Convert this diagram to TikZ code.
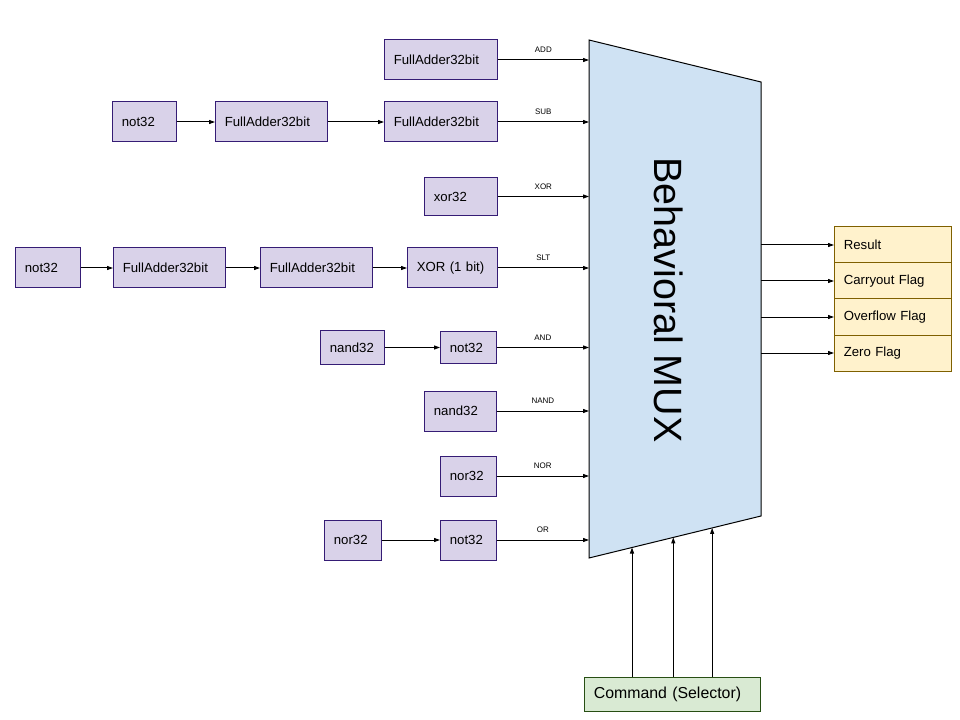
\documentclass[tikz,border=0pt]{standalone}
\usepackage{fontspec}
\setmainfont{Liberation Sans}
\usepackage{tikz}
\usetikzlibrary{arrows.meta,calc}

\definecolor{blkfill}{HTML}{D9D2E9}
\definecolor{blkline}{HTML}{351C75}
\definecolor{muxfill}{HTML}{CFE2F3}
\definecolor{outfill}{HTML}{FFF2CC}
\definecolor{outline}{HTML}{7F6000}
\definecolor{cmdfill}{HTML}{D9EAD3}
\definecolor{cmdline}{HTML}{274E13}

\tikzset{
  blk/.style={draw=blkline, fill=blkfill, line width=0.75pt, anchor=west,
    font=\fontsize{9.9}{12}\selectfont, inner xsep=7pt, inner ysep=0pt,
    minimum height=30pt, text width={(#1-19)*0.75pt}, align=left},
  outbox/.style={draw=outline, fill=outfill, line width=0.75pt, anchor=west,
    font=\fontsize{9.9}{12}\selectfont, inner xsep=7pt, inner ysep=0pt,
    minimum height=27pt, text width={(117-19)*0.75pt}, align=left},
  arr/.style={line width=0.75pt, -{Triangle[length=4.5pt,width=3pt]}},
  lbl/.style={font=\fontsize{6}{7}\selectfont, above, inner sep=0pt, yshift=5pt}
}

\begin{document}
\begin{tikzpicture}[x=0.75pt, y=-0.75pt]
    \useasboundingbox (0,0) rectangle (960,720);

    % the mux
    \coordinate (mtl) at (589,40);
    \coordinate (mtr) at (761,82);
    \coordinate (mbr) at (761,516);
    \coordinate (mbl) at (589,558);
    \draw[fill=muxfill, line width=0.75pt] (mtl) -- (mtr) -- (mbr) -- (mbl) -- cycle;
    \node[rotate=-90, font=\fontsize{29.6}{30}\selectfont] (muxtxt) at (669,300) {Behavioral MUX};

    % ADD
    \node[blk=113] (addfa) at (384,60) {FullAdder32bit};
    \draw[arr] (addfa.east) -- (addfa.east -| mtl) node[midway, lbl] {ADD};

    % SUB
    \node[blk=64] (subnot) at (112,122) {not32};
    \node[blk=112] (subfa1) at (215,122) {FullAdder32bit};
    \node[blk=113] (subfa2) at (384,122) {FullAdder32bit};
    \draw[arr] (subnot) -- (subfa1);
    \draw[arr] (subfa1) -- (subfa2);
    \draw[arr] (subfa2.east) -- (subfa2.east -| mtl) node[midway, lbl] {SUB};

    % XOR
    \node[blk=73, minimum height=29pt] (xor) at (424,196.5) {xor32};
    \draw[arr] (xor.east) -- (xor.east -| mtl) node[midway, lbl] {XOR};

    % SLT
    \node[blk=65] (sltnot) at (15,268) {not32};
    \node[blk=112] (sltfa1) at (113,268) {FullAdder32bit};
    \node[blk=112] (sltfa2) at (260,268) {FullAdder32bit};
    \node[blk=90] (sltxor) at (407,268) {XOR (1 bit)};
    \draw[arr] (sltnot) -- (sltfa1);
    \draw[arr] (sltfa1) -- (sltfa2);
    \draw[arr] (sltfa2) -- (sltxor);
    \draw[arr] (sltxor.east) -- (sltxor.east -| mtl) node[midway, lbl] {SLT};

    % AND
    \node[blk=64, minimum height=25.5pt] (andnand) at (320,347.5) {nand32};
    \node[blk=56, minimum height=24pt] (andnot) at (440,347.5) {not32};
    \draw[arr] (andnand) -- (andnot);
    \draw[arr] (andnot.east) -- (andnot.east -| mtl) node[midway, lbl] {AND};

    % NAND
    \node[blk=72] (nand) at (424,411) {nand32};
    \draw[arr] (nand.east) -- (nand.east -| mtl) node[midway, lbl] {NAND};

    % NOR
    \node[blk=56] (nor) at (440,476) {nor32};
    \draw[arr] (nor.east) -- (nor.east -| mtl) node[midway, lbl] {NOR};

    % OR
    \node[blk=57] (ornor) at (324,540) {nor32};
    \node[blk=56] (ornot) at (440,540) {not32};
    \draw[arr] (ornor) -- (ornot);
    \draw[arr] (ornot.east) -- (ornot.east -| mtl) node[midway, lbl] {OR};

    % outputs
    \node[outbox] (res) at (834,245) {Result};
    \node[outbox] (cout) at (834,281) {Carryout Flag};
    \node[outbox] (ovf) at (834,317) {Overflow Flag};
    \node[outbox] (zero) at (834,353) {Zero Flag};
    \foreach \o in {res,cout,ovf,zero}
        \draw[arr] (\o.west -| mtr) -- (\o.west);

    % selector
    \node[draw=cmdline, fill=cmdfill, line width=0.75pt, anchor=west,
          font=\fontsize{11.9}{14}\selectfont, inner xsep=7pt, inner ysep=0pt,
          minimum height=25.5pt, text width={(176-19)*0.75pt}, align=left]
          (cmd) at (584,694) {Command (Selector)};
    \coordinate (sel1) at ($(mbl)!0.25!(mbr)$);
    \coordinate (sel2) at ($(mbl)!0.49!(mbr)$);
    \coordinate (sel3) at ($(mbl)!0.716!(mbr)$);
    \foreach \s in {sel1,sel2,sel3}
        \draw[arr] (\s |- cmd.north) -- (\s);
\end{tikzpicture}
\end{document}
